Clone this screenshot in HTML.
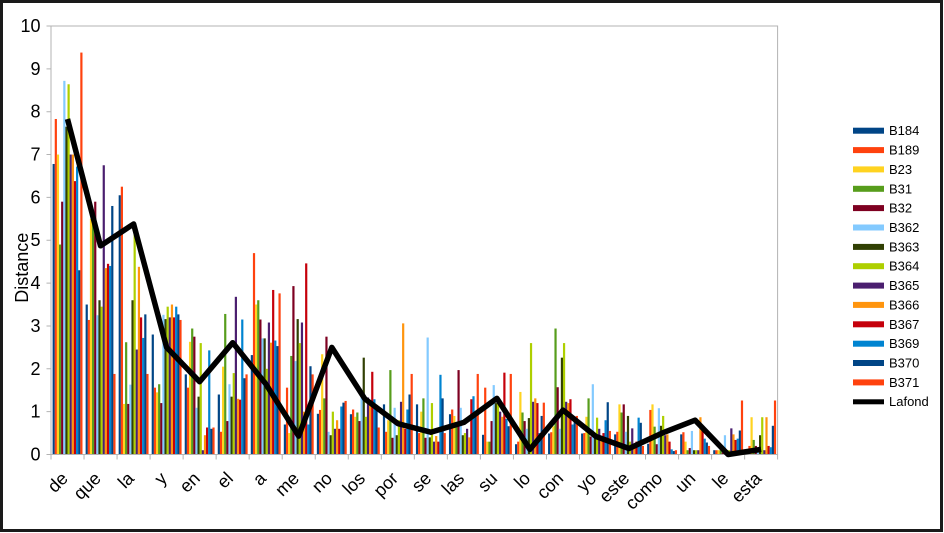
<!DOCTYPE html>
<html><head><meta charset="utf-8"><style>
html,body{margin:0;padding:0;background:#fff}
svg{display:block}
text{font-family:"Liberation Sans",sans-serif;fill:#000}
.a{fill:#004586}.b{fill:#ff420e}.c{fill:#ffd320}.d{fill:#579d1c}.e{fill:#7e0021}.f{fill:#83caff}.g{fill:#314004}.h{fill:#aecf00}.i{fill:#4b1f6f}.j{fill:#ff950e}.k{fill:#c5000b}.l{fill:#0084d1}.m{fill:#004586}.n{fill:#ff420e}
</style></head><body>
<svg width="944" height="533" viewBox="0 0 944 533" xmlns="http://www.w3.org/2000/svg">
<rect x="0" y="0" width="944" height="533" fill="#fff"/>
<rect x="1.5" y="1.5" width="940" height="529" fill="none" stroke="#1a1a1a" stroke-width="3"/>
<rect x="51" y="26" width="726.6" height="428.5" fill="none" stroke="#b3b3b3" stroke-width="1"/>
<g id="bars">
<g transform="translate(52.6,454.5) scale(1,-42.85)"><rect class="a" x="0" width="2.2" height="6.78"/><rect class="b" x="2.13" width="2.2" height="7.83"/><rect class="c" x="4.26" width="2.2" height="7.0"/><rect class="d" x="6.39" width="2.2" height="4.9"/><rect class="e" x="8.52" width="2.2" height="5.9"/><rect class="f" x="10.65" width="2.2" height="8.72"/><rect class="g" x="12.78" width="2.2" height="7.65"/><rect class="h" x="14.91" width="2.2" height="8.64"/><rect class="i" x="17.04" width="2.2" height="7.0"/><rect class="j" x="19.17" width="2.2" height="7.0"/><rect class="k" x="21.3" width="2.2" height="6.38"/><rect class="l" x="23.43" width="2.2" height="6.72"/><rect class="m" x="25.56" width="2.2" height="4.3"/><rect class="n" x="27.69" width="2.2" height="9.38"/></g>
<g transform="translate(85.63,454.5) scale(1,-42.85)"><rect class="a" x="0" width="2.2" height="3.5"/><rect class="b" x="2.13" width="2.2" height="3.14"/><rect class="c" x="4.26" width="2.2" height="5.5"/><rect class="d" x="6.39" width="2.2" height="5.45"/><rect class="e" x="8.52" width="2.2" height="5.9"/><rect class="f" x="10.65" width="2.2" height="3.25"/><rect class="g" x="12.78" width="2.2" height="3.6"/><rect class="h" x="14.91" width="2.2" height="3.45"/><rect class="i" x="17.04" width="2.2" height="6.75"/><rect class="j" x="19.17" width="2.2" height="4.35"/><rect class="k" x="21.3" width="2.2" height="4.45"/><rect class="l" x="23.43" width="2.2" height="4.4"/><rect class="m" x="25.56" width="2.2" height="5.8"/><rect class="n" x="27.69" width="2.2" height="1.88"/></g>
<g transform="translate(118.66,454.5) scale(1,-42.85)"><rect class="a" x="0" width="2.2" height="6.05"/><rect class="b" x="2.13" width="2.2" height="6.25"/><rect class="c" x="4.26" width="2.2" height="1.18"/><rect class="d" x="6.39" width="2.2" height="2.62"/><rect class="e" x="8.52" width="2.2" height="1.18"/><rect class="f" x="10.65" width="2.2" height="1.63"/><rect class="g" x="12.78" width="2.2" height="3.6"/><rect class="h" x="14.91" width="2.2" height="5.3"/><rect class="i" x="17.04" width="2.2" height="2.45"/><rect class="j" x="19.17" width="2.2" height="4.38"/><rect class="k" x="21.3" width="2.2" height="3.2"/><rect class="l" x="23.43" width="2.2" height="2.72"/><rect class="m" x="25.56" width="2.2" height="3.27"/><rect class="n" x="27.69" width="2.2" height="1.88"/></g>
<g transform="translate(151.69,454.5) scale(1,-42.85)"><rect class="a" x="0" width="2.2" height="2.8"/><rect class="b" x="2.13" width="2.2" height="1.56"/><rect class="c" x="4.26" width="2.2" height="1.45"/><rect class="d" x="6.39" width="2.2" height="1.64"/><rect class="e" x="8.52" width="2.2" height="1.2"/><rect class="f" x="10.65" width="2.2" height="3.26"/><rect class="g" x="12.78" width="2.2" height="3.16"/><rect class="h" x="14.91" width="2.2" height="3.45"/><rect class="i" x="17.04" width="2.2" height="3.2"/><rect class="j" x="19.17" width="2.2" height="3.5"/><rect class="k" x="21.3" width="2.2" height="3.2"/><rect class="l" x="23.43" width="2.2" height="3.45"/><rect class="m" x="25.56" width="2.2" height="3.27"/><rect class="n" x="27.69" width="2.2" height="3.14"/></g>
<g transform="translate(184.72,454.5) scale(1,-42.85)"><rect class="a" x="0" width="2.2" height="1.87"/><rect class="b" x="2.13" width="2.2" height="1.56"/><rect class="c" x="4.26" width="2.2" height="2.63"/><rect class="d" x="6.39" width="2.2" height="2.94"/><rect class="e" x="8.52" width="2.2" height="2.75"/><rect class="f" x="10.65" width="2.2" height="1.09"/><rect class="g" x="12.78" width="2.2" height="1.35"/><rect class="h" x="14.91" width="2.2" height="2.6"/><rect class="i" x="17.04" width="2.2" height="0.1"/><rect class="j" x="19.17" width="2.2" height="0.45"/><rect class="k" x="21.3" width="2.2" height="0.63"/><rect class="l" x="23.43" width="2.2" height="2.43"/><rect class="m" x="25.56" width="2.2" height="0.6"/><rect class="n" x="27.69" width="2.2" height="0.63"/></g>
<g transform="translate(217.75,454.5) scale(1,-42.85)"><rect class="a" x="0" width="2.2" height="1.4"/><rect class="b" x="2.13" width="2.2" height="0.53"/><rect class="c" x="4.26" width="2.2" height="2.05"/><rect class="d" x="6.39" width="2.2" height="3.28"/><rect class="e" x="8.52" width="2.2" height="0.78"/><rect class="f" x="10.65" width="2.2" height="1.64"/><rect class="g" x="12.78" width="2.2" height="1.35"/><rect class="h" x="14.91" width="2.2" height="1.9"/><rect class="i" x="17.04" width="2.2" height="3.68"/><rect class="j" x="19.17" width="2.2" height="1.3"/><rect class="k" x="21.3" width="2.2" height="1.28"/><rect class="l" x="23.43" width="2.2" height="3.15"/><rect class="m" x="25.56" width="2.2" height="1.78"/><rect class="n" x="27.69" width="2.2" height="1.87"/></g>
<g transform="translate(250.78,454.5) scale(1,-42.85)"><rect class="a" x="0" width="2.2" height="2.32"/><rect class="b" x="2.13" width="2.2" height="4.7"/><rect class="c" x="4.26" width="2.2" height="3.5"/><rect class="d" x="6.39" width="2.2" height="3.6"/><rect class="e" x="8.52" width="2.2" height="3.15"/><rect class="f" x="10.65" width="2.2" height="2.71"/><rect class="g" x="12.78" width="2.2" height="2.71"/><rect class="h" x="14.91" width="2.2" height="2.0"/><rect class="i" x="17.04" width="2.2" height="3.08"/><rect class="j" x="19.17" width="2.2" height="2.61"/><rect class="k" x="21.3" width="2.2" height="3.84"/><rect class="l" x="23.43" width="2.2" height="2.66"/><rect class="m" x="25.56" width="2.2" height="2.53"/><rect class="n" x="27.69" width="2.2" height="3.76"/></g>
<g transform="translate(283.81,454.5) scale(1,-42.85)"><rect class="a" x="0" width="2.2" height="0.7"/><rect class="b" x="2.13" width="2.2" height="1.56"/><rect class="c" x="4.26" width="2.2" height="0.5"/><rect class="d" x="6.39" width="2.2" height="2.3"/><rect class="e" x="8.52" width="2.2" height="3.93"/><rect class="f" x="10.65" width="2.2" height="2.18"/><rect class="g" x="12.78" width="2.2" height="3.16"/><rect class="h" x="14.91" width="2.2" height="2.6"/><rect class="i" x="17.04" width="2.2" height="3.08"/><rect class="j" x="19.17" width="2.2" height="1.0"/><rect class="k" x="21.3" width="2.2" height="4.46"/><rect class="l" x="23.43" width="2.2" height="0.7"/><rect class="m" x="25.56" width="2.2" height="2.06"/><rect class="n" x="27.69" width="2.2" height="1.87"/></g>
<g transform="translate(316.84,454.5) scale(1,-42.85)"><rect class="a" x="0" width="2.2" height="0.95"/><rect class="b" x="2.13" width="2.2" height="1.04"/><rect class="c" x="4.26" width="2.2" height="2.34"/><rect class="d" x="6.39" width="2.2" height="1.31"/><rect class="e" x="8.52" width="2.2" height="2.75"/><rect class="f" x="10.65" width="2.2" height="0.53"/><rect class="g" x="12.78" width="2.2" height="0.45"/><rect class="h" x="14.91" width="2.2" height="1.0"/><rect class="i" x="17.04" width="2.2" height="0.6"/><rect class="j" x="19.17" width="2.2" height="0.8"/><rect class="k" x="21.3" width="2.2" height="0.6"/><rect class="l" x="23.43" width="2.2" height="1.12"/><rect class="m" x="25.56" width="2.2" height="1.21"/><rect class="n" x="27.69" width="2.2" height="1.25"/></g>
<g transform="translate(349.87,454.5) scale(1,-42.85)"><rect class="a" x="0" width="2.2" height="0.94"/><rect class="b" x="2.13" width="2.2" height="1.05"/><rect class="c" x="4.26" width="2.2" height="0.88"/><rect class="d" x="6.39" width="2.2" height="0.98"/><rect class="e" x="8.52" width="2.2" height="0.78"/><rect class="f" x="10.65" width="2.2" height="1.4"/><rect class="g" x="12.78" width="2.2" height="2.26"/><rect class="h" x="14.91" width="2.2" height="0.88"/><rect class="i" x="17.04" width="2.2" height="1.33"/><rect class="j" x="19.17" width="2.2" height="1.2"/><rect class="k" x="21.3" width="2.2" height="1.93"/><rect class="l" x="23.43" width="2.2" height="1.29"/><rect class="m" x="25.56" width="2.2" height="1.15"/><rect class="n" x="27.69" width="2.2" height="0.63"/></g>
<g transform="translate(382.9,454.5) scale(1,-42.85)"><rect class="a" x="0" width="2.2" height="1.17"/><rect class="b" x="2.13" width="2.2" height="0.53"/><rect class="c" x="4.26" width="2.2" height="0.8"/><rect class="d" x="6.39" width="2.2" height="1.97"/><rect class="e" x="8.52" width="2.2" height="0.39"/><rect class="f" x="10.65" width="2.2" height="1.09"/><rect class="g" x="12.78" width="2.2" height="0.45"/><rect class="h" x="14.91" width="2.2" height="0.8"/><rect class="i" x="17.04" width="2.2" height="1.23"/><rect class="j" x="19.17" width="2.2" height="3.06"/><rect class="k" x="21.3" width="2.2" height="0.6"/><rect class="l" x="23.43" width="2.2" height="1.05"/><rect class="m" x="25.56" width="2.2" height="1.4"/><rect class="n" x="27.69" width="2.2" height="1.88"/></g>
<g transform="translate(415.93,454.5) scale(1,-42.85)"><rect class="a" x="0" width="2.2" height="1.17"/><rect class="b" x="2.13" width="2.2" height="0.5"/><rect class="c" x="4.26" width="2.2" height="1.0"/><rect class="d" x="6.39" width="2.2" height="1.31"/><rect class="e" x="8.52" width="2.2" height="0.39"/><rect class="f" x="10.65" width="2.2" height="2.73"/><rect class="g" x="12.78" width="2.2" height="0.4"/><rect class="h" x="14.91" width="2.2" height="1.2"/><rect class="i" x="17.04" width="2.2" height="0.3"/><rect class="j" x="19.17" width="2.2" height="0.43"/><rect class="k" x="21.3" width="2.2" height="0.3"/><rect class="l" x="23.43" width="2.2" height="1.86"/><rect class="m" x="25.56" width="2.2" height="1.31"/><rect class="n" x="27.69" width="2.2" height="0.5"/></g>
<g transform="translate(448.96,454.5) scale(1,-42.85)"><rect class="a" x="0" width="2.2" height="0.94"/><rect class="b" x="2.13" width="2.2" height="1.05"/><rect class="c" x="4.26" width="2.2" height="0.9"/><rect class="d" x="6.39" width="2.2" height="0.7"/><rect class="e" x="8.52" width="2.2" height="1.97"/><rect class="f" x="10.65" width="2.2" height="1.09"/><rect class="g" x="12.78" width="2.2" height="0.45"/><rect class="h" x="14.91" width="2.2" height="0.5"/><rect class="i" x="17.04" width="2.2" height="0.6"/><rect class="j" x="19.17" width="2.2" height="0.4"/><rect class="k" x="21.3" width="2.2" height="1.29"/><rect class="l" x="23.43" width="2.2" height="1.36"/><rect class="m" x="25.56" width="2.2" height="1.0"/><rect class="n" x="27.69" width="2.2" height="1.88"/></g>
<g transform="translate(481.99,454.5) scale(1,-42.85)"><rect class="a" x="0" width="2.2" height="0.46"/><rect class="b" x="2.13" width="2.2" height="1.56"/><rect class="c" x="4.26" width="2.2" height="0.3"/><rect class="d" x="6.39" width="2.2" height="0.3"/><rect class="e" x="8.52" width="2.2" height="0.78"/><rect class="f" x="10.65" width="2.2" height="1.62"/><rect class="g" x="12.78" width="2.2" height="1.2"/><rect class="h" x="14.91" width="2.2" height="1.3"/><rect class="i" x="17.04" width="2.2" height="1.0"/><rect class="j" x="19.17" width="2.2" height="0.88"/><rect class="k" x="21.3" width="2.2" height="1.91"/><rect class="l" x="23.43" width="2.2" height="0.83"/><rect class="m" x="25.56" width="2.2" height="0.66"/><rect class="n" x="27.69" width="2.2" height="1.88"/></g>
<g transform="translate(515.02,454.5) scale(1,-42.85)"><rect class="a" x="0" width="2.2" height="0.24"/><rect class="b" x="2.13" width="2.2" height="0.3"/><rect class="c" x="4.26" width="2.2" height="1.46"/><rect class="d" x="6.39" width="2.2" height="0.98"/><rect class="e" x="8.52" width="2.2" height="0.78"/><rect class="f" x="10.65" width="2.2" height="0.6"/><rect class="g" x="12.78" width="2.2" height="0.85"/><rect class="h" x="14.91" width="2.2" height="2.6"/><rect class="i" x="17.04" width="2.2" height="1.23"/><rect class="j" x="19.17" width="2.2" height="1.31"/><rect class="k" x="21.3" width="2.2" height="1.2"/><rect class="l" x="23.43" width="2.2" height="0.5"/><rect class="m" x="25.56" width="2.2" height="0.9"/><rect class="n" x="27.69" width="2.2" height="1.21"/></g>
<g transform="translate(548.05,454.5) scale(1,-42.85)"><rect class="a" x="0" width="2.2" height="0.49"/><rect class="b" x="2.13" width="2.2" height="0.52"/><rect class="c" x="4.26" width="2.2" height="0.66"/><rect class="d" x="6.39" width="2.2" height="2.94"/><rect class="e" x="8.52" width="2.2" height="1.57"/><rect class="f" x="10.65" width="2.2" height="0.6"/><rect class="g" x="12.78" width="2.2" height="2.26"/><rect class="h" x="14.91" width="2.2" height="2.6"/><rect class="i" x="17.04" width="2.2" height="1.23"/><rect class="j" x="19.17" width="2.2" height="1.2"/><rect class="k" x="21.3" width="2.2" height="1.29"/><rect class="l" x="23.43" width="2.2" height="0.7"/><rect class="m" x="25.56" width="2.2" height="0.8"/><rect class="n" x="27.69" width="2.2" height="0.9"/></g>
<g transform="translate(581.08,454.5) scale(1,-42.85)"><rect class="a" x="0" width="2.2" height="0.49"/><rect class="b" x="2.13" width="2.2" height="0.5"/><rect class="c" x="4.26" width="2.2" height="0.88"/><rect class="d" x="6.39" width="2.2" height="1.31"/><rect class="e" x="8.52" width="2.2" height="0.42"/><rect class="f" x="10.65" width="2.2" height="1.64"/><rect class="g" x="12.78" width="2.2" height="0.5"/><rect class="h" x="14.91" width="2.2" height="0.86"/><rect class="i" x="17.04" width="2.2" height="0.6"/><rect class="j" x="19.17" width="2.2" height="0.4"/><rect class="k" x="21.3" width="2.2" height="0.5"/><rect class="l" x="23.43" width="2.2" height="0.8"/><rect class="m" x="25.56" width="2.2" height="1.22"/><rect class="n" x="27.69" width="2.2" height="0.55"/></g>
<g transform="translate(614.11,454.5) scale(1,-42.85)"><rect class="a" x="0" width="2.2" height="0.47"/><rect class="b" x="2.13" width="2.2" height="0.53"/><rect class="c" x="4.26" width="2.2" height="1.17"/><rect class="d" x="6.39" width="2.2" height="0.98"/><rect class="e" x="8.52" width="2.2" height="1.17"/><rect class="f" x="10.65" width="2.2" height="0.53"/><rect class="g" x="12.78" width="2.2" height="0.9"/><rect class="h" x="14.91" width="2.2" height="0.3"/><rect class="i" x="17.04" width="2.2" height="0.61"/><rect class="j" x="19.17" width="2.2" height="0.2"/><rect class="k" x="21.3" width="2.2" height="0.3"/><rect class="l" x="23.43" width="2.2" height="0.86"/><rect class="m" x="25.56" width="2.2" height="0.74"/><rect class="n" x="27.69" width="2.2" height="0.2"/></g>
<g transform="translate(647.14,454.5) scale(1,-42.85)"><rect class="a" x="0" width="2.2" height="0.25"/><rect class="b" x="2.13" width="2.2" height="1.04"/><rect class="c" x="4.26" width="2.2" height="1.17"/><rect class="d" x="6.39" width="2.2" height="0.65"/><rect class="e" x="8.52" width="2.2" height="0.24"/><rect class="f" x="10.65" width="2.2" height="1.08"/><rect class="g" x="12.78" width="2.2" height="0.67"/><rect class="h" x="14.91" width="2.2" height="0.9"/><rect class="i" x="17.04" width="2.2" height="0.45"/><rect class="j" x="19.17" width="2.2" height="0.47"/><rect class="k" x="21.3" width="2.2" height="0.3"/><rect class="l" x="23.43" width="2.2" height="0.12"/><rect class="m" x="25.56" width="2.2" height="0.08"/><rect class="n" x="27.69" width="2.2" height="0.1"/></g>
<g transform="translate(680.17,454.5) scale(1,-42.85)"><rect class="a" x="0" width="2.2" height="0.47"/><rect class="b" x="2.13" width="2.2" height="0.52"/><rect class="c" x="4.26" width="2.2" height="0.3"/><rect class="d" x="6.39" width="2.2" height="0.1"/><rect class="e" x="8.52" width="2.2" height="0.15"/><rect class="f" x="10.65" width="2.2" height="0.55"/><rect class="g" x="12.78" width="2.2" height="0.1"/><rect class="h" x="14.91" width="2.2" height="0.1"/><rect class="i" x="17.04" width="2.2" height="0.1"/><rect class="j" x="19.17" width="2.2" height="0.87"/><rect class="k" x="21.3" width="2.2" height="0.6"/><rect class="l" x="23.43" width="2.2" height="0.37"/><rect class="m" x="25.56" width="2.2" height="0.28"/><rect class="n" x="27.69" width="2.2" height="0.2"/></g>
<g transform="translate(713.2,454.5) scale(1,-42.85)"><rect class="a" x="0" width="2.2" height="0.1"/><rect class="b" x="2.13" width="2.2" height="0.1"/><rect class="c" x="4.26" width="2.2" height="0.1"/><rect class="d" x="6.39" width="2.2" height="0.1"/><rect class="e" x="8.52" width="2.2" height="0.05"/><rect class="f" x="10.65" width="2.2" height="0.45"/><rect class="g" x="12.78" width="2.2" height="0.1"/><rect class="h" x="14.91" width="2.2" height="0.1"/><rect class="i" x="17.04" width="2.2" height="0.61"/><rect class="j" x="19.17" width="2.2" height="0.47"/><rect class="k" x="21.3" width="2.2" height="0.34"/><rect class="l" x="23.43" width="2.2" height="0.37"/><rect class="m" x="25.56" width="2.2" height="0.56"/><rect class="n" x="27.69" width="2.2" height="1.26"/></g>
<g transform="translate(746.23,454.5) scale(1,-42.85)"><rect class="a" x="0" width="2.2" height="0.1"/><rect class="b" x="2.13" width="2.2" height="0.2"/><rect class="c" x="4.26" width="2.2" height="0.87"/><rect class="d" x="6.39" width="2.2" height="0.34"/><rect class="e" x="8.52" width="2.2" height="0.2"/><rect class="f" x="10.65" width="2.2" height="0.1"/><rect class="g" x="12.78" width="2.2" height="0.45"/><rect class="h" x="14.91" width="2.2" height="0.87"/><rect class="i" x="17.04" width="2.2" height="0.1"/><rect class="j" x="19.17" width="2.2" height="0.87"/><rect class="k" x="21.3" width="2.2" height="0.2"/><rect class="l" x="23.43" width="2.2" height="0.17"/><rect class="m" x="25.56" width="2.2" height="0.67"/><rect class="n" x="27.69" width="2.2" height="1.26"/></g>
</g>
<g stroke="#b3b3b3" stroke-width="1" fill="none">
<line x1="51" y1="26" x2="51" y2="454.5"/>
<line x1="51" y1="454.5" x2="777.6" y2="454.5"/>
<path d="M46.5 454.5H51M46.5 411.65H51M46.5 368.8H51M46.5 325.95H51M46.5 283.1H51M46.5 240.25H51M46.5 197.4H51M46.5 154.55H51M46.5 111.7H51M46.5 68.85H51M46.5 26H51"/>
<path d="M51 454.5V459.5M84.03 454.5V459.5M117.06 454.5V459.5M150.09 454.5V459.5M183.12 454.5V459.5M216.15 454.5V459.5M249.18 454.5V459.5M282.21 454.5V459.5M315.24 454.5V459.5M348.27 454.5V459.5M381.3 454.5V459.5M414.33 454.5V459.5M447.36 454.5V459.5M480.39 454.5V459.5M513.42 454.5V459.5M546.45 454.5V459.5M579.48 454.5V459.5M612.51 454.5V459.5M645.54 454.5V459.5M678.57 454.5V459.5M711.6 454.5V459.5M744.63 454.5V459.5M777.6 454.5V459.5"/>
</g>
<polyline fill="none" stroke="#000" stroke-width="5.5" stroke-linejoin="round" stroke-linecap="butt" points="67.5,119 100.5,245.8 133.6,224 166.6,347.4 199.6,381.7 232.7,342.7 265.7,383.8 298.7,436.1 331.8,347.4 364.8,398.8 397.8,423.6 430.8,432.2 463.9,422.4 496.9,398.4 529.9,449.4 563,410.1 596,436.5 629,448.5 662.1,433.1 695.1,420.2 728.1,454.5 761.1,449.4"/>
<g font-size="18" text-anchor="end">
<text x="40.5" y="460.5">0</text>
<text x="40.5" y="417.6">1</text>
<text x="40.5" y="374.8">2</text>
<text x="40.5" y="331.9">3</text>
<text x="40.5" y="289.1">4</text>
<text x="40.5" y="246.2">5</text>
<text x="40.5" y="203.4">6</text>
<text x="40.5" y="160.5">7</text>
<text x="40.5" y="117.7">8</text>
<text x="40.5" y="74.8">9</text>
<text x="40.5" y="32">10</text>
</g>
<text x="28" y="267.7" font-size="18" text-anchor="middle" transform="rotate(-90 28 267.7)">Distance</text>
<g font-size="18" text-anchor="end">
<text transform="translate(69,479.5) rotate(-45)">de</text>
<text transform="translate(102,479.5) rotate(-45)">que</text>
<text transform="translate(135.1,479.5) rotate(-45)">la</text>
<text transform="translate(168.1,479.5) rotate(-45)">y</text>
<text transform="translate(201.1,479.5) rotate(-45)">en</text>
<text transform="translate(234.2,479.5) rotate(-45)">el</text>
<text transform="translate(267.2,479.5) rotate(-45)">a</text>
<text transform="translate(300.2,479.5) rotate(-45)">me</text>
<text transform="translate(333.3,479.5) rotate(-45)">no</text>
<text transform="translate(366.3,479.5) rotate(-45)">los</text>
<text transform="translate(399.3,479.5) rotate(-45)">por</text>
<text transform="translate(432.3,479.5) rotate(-45)">se</text>
<text transform="translate(465.4,479.5) rotate(-45)">las</text>
<text transform="translate(498.4,479.5) rotate(-45)">su</text>
<text transform="translate(531.4,479.5) rotate(-45)">lo</text>
<text transform="translate(564.5,479.5) rotate(-45)">con</text>
<text transform="translate(597.5,479.5) rotate(-45)">yo</text>
<text transform="translate(630.5,479.5) rotate(-45)">este</text>
<text transform="translate(663.6,479.5) rotate(-45)">como</text>
<text transform="translate(696.6,479.5) rotate(-45)">un</text>
<text transform="translate(729.6,479.5) rotate(-45)">le</text>
<text transform="translate(762.6,479.5) rotate(-45)">esta</text>
</g>
<g>
<rect class="a" x="853" y="127.7" width="31" height="6"/>
<rect class="b" x="853" y="147.1" width="31" height="6"/>
<rect class="c" x="853" y="166.4" width="31" height="6"/>
<rect class="d" x="853" y="185.8" width="31" height="6"/>
<rect class="e" x="853" y="205.1" width="31" height="6"/>
<rect class="f" x="853" y="224.5" width="31" height="6"/>
<rect class="g" x="853" y="243.9" width="31" height="6"/>
<rect class="h" x="853" y="263.2" width="31" height="6"/>
<rect class="i" x="853" y="282.6" width="31" height="6"/>
<rect class="j" x="853" y="301.9" width="31" height="6"/>
<rect class="k" x="853" y="321.3" width="31" height="6"/>
<rect class="l" x="853" y="340.7" width="31" height="6"/>
<rect class="m" x="853" y="360.0" width="31" height="6"/>
<rect class="n" x="853" y="379.4" width="31" height="6"/>
<rect x="853" y="399.3" width="31" height="5" fill="#000"/>
</g>
<g font-size="13">
<text x="889" y="135.2">B184</text>
<text x="889" y="154.6">B189</text>
<text x="889" y="173.9">B23</text>
<text x="889" y="193.3">B31</text>
<text x="889" y="212.6">B32</text>
<text x="889" y="232">B362</text>
<text x="889" y="251.4">B363</text>
<text x="889" y="270.7">B364</text>
<text x="889" y="290.1">B365</text>
<text x="889" y="309.4">B366</text>
<text x="889" y="328.8">B367</text>
<text x="889" y="348.2">B369</text>
<text x="889" y="367.5">B370</text>
<text x="889" y="386.9">B371</text>
<text x="889" y="406.2">Lafond</text>
</g>
</svg>
</body></html>
